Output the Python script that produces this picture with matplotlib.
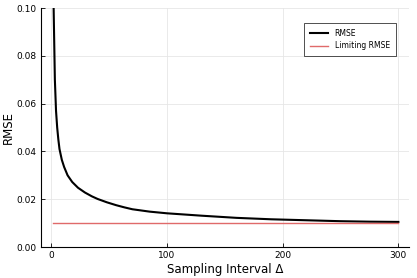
import matplotlib
matplotlib.use("Agg")
import matplotlib.pyplot as plt

delta = [1, 2, 3, 4, 5, 6, 7, 9, 11, 14, 18, 23, 29, 35, 40, 48, 56, 63, 70,
         85, 100, 115, 130, 160, 190, 220, 250, 275, 300]
rmse = [0.13, 0.098, 0.070, 0.057, 0.050, 0.045, 0.041, 0.0365, 0.0335, 0.0300,
        0.0272, 0.0248, 0.0228, 0.0212, 0.0201, 0.0187, 0.0175, 0.0166, 0.0158,
        0.0148, 0.0141, 0.0136, 0.0131, 0.0122, 0.0116, 0.0112, 0.0108, 0.0106,
        0.0105]
limit_x = [1, 300]
limit_y = [0.01, 0.01]

xticks = [0, 100, 200, 300]
yticks = [0.00, 0.02, 0.04, 0.06, 0.08, 0.10]

fig = plt.figure(figsize=(4.17, 2.78), dpi=100)
ax = fig.add_axes([0.0983, 0.1115, 0.882, 0.8595])

ax.plot(delta, rmse, color="black", lw=1.5, label="RMSE")
ax.plot(limit_x, limit_y, color="#e06a6a", lw=1.0, label="Limiting RMSE")

ax.set_xlim(-9, 309)
ax.set_ylim(0, 0.10)
ax.set_xticks(xticks)
ax.set_xticklabels([str(t) for t in xticks])
ax.set_yticks(yticks)
ax.set_yticklabels([f"{t:.2f}" for t in yticks])

for s in ["top", "right"]:
    ax.spines[s].set_visible(False)
for s in ["left", "bottom"]:
    ax.spines[s].set_linewidth(0.8)
ax.grid(True, color="#e6e6e6", lw=0.6)
ax.set_axisbelow(True)
ax.tick_params(direction="in", length=3, width=0.6, labelsize=6.5, pad=3)

ax.set_xlabel("Sampling Interval Δ", fontsize=8.5, labelpad=2)
ax.set_ylabel("RMSE", fontsize=8.5, labelpad=1)

leg = ax.legend(loc="upper right", bbox_to_anchor=(0.975, 0.955), fontsize=5.5,
                frameon=True, fancybox=False, edgecolor="black",
                handlelength=2.4, borderpad=0.8, labelspacing=0.45)
leg.get_frame().set_linewidth(0.6)

fig.savefig("out.png", dpi=100)
